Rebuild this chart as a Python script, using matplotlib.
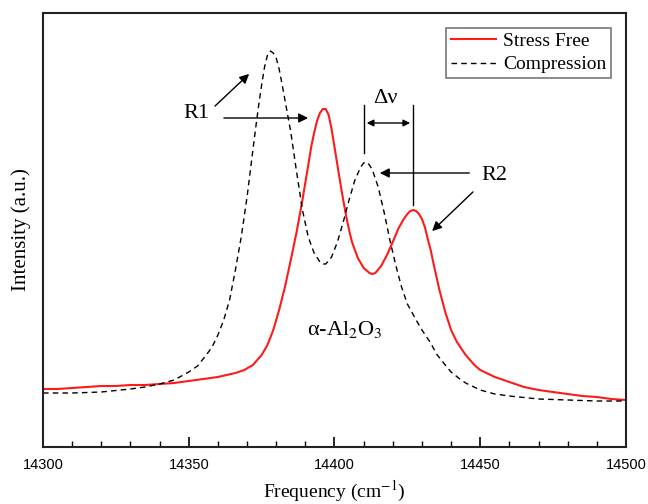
import numpy as np
import matplotlib
matplotlib.use("Agg")
import matplotlib.pyplot as plt

# Stress free spectrum
freq_free = [14300, 14305, 14310, 14315, 14320, 14325, 14330, 14335, 14340, 14345,
             14350, 14355, 14360, 14363, 14366, 14369, 14372, 14375, 14377, 14379,
             14381, 14383, 14385, 14387, 14389, 14391, 14392, 14393, 14394, 14395,
             14396, 14397, 14398, 14399, 14400, 14401, 14402, 14403, 14404, 14405,
             14406, 14408, 14410, 14412, 14413, 14414, 14416, 14418, 14420, 14422,
             14424, 14425, 14426, 14427, 14428, 14429, 14430, 14431, 14432, 14433,
             14434, 14436, 14438, 14440, 14442, 14445, 14448, 14450, 14455, 14460,
             14465, 14470, 14475, 14480, 14485, 14490, 14495, 14500]
int_free = [58, 58, 59, 60, 61, 61, 62, 62, 63, 64,
            66, 68, 70, 72, 74, 77, 82, 92, 102, 117,
            137, 160, 187, 215, 247, 282, 300, 314, 326, 334,
            338, 338, 332, 318, 300, 282, 264, 247, 231, 217,
            205, 189, 179, 174, 173, 174, 181, 192, 205, 219,
            229, 233, 236, 237, 236, 233, 228, 220, 208, 197,
            183, 157, 135, 117, 105, 92, 82, 77, 70, 65,
            60, 57, 55, 53, 51, 50, 48, 47]

# Compression spectrum
freq_comp = [14300, 14310, 14320, 14330, 14335, 14340, 14345, 14350, 14353, 14356,
             14358, 14360, 14362, 14364, 14366, 14368, 14370, 14372, 14373, 14374,
             14375, 14376, 14377, 14378, 14379, 14380, 14381, 14382, 14383, 14385,
             14387, 14389, 14391, 14393, 14395, 14396, 14397, 14399, 14401, 14403,
             14405, 14407, 14409, 14410, 14411, 14412, 14413, 14415, 14417, 14419,
             14421, 14423, 14425, 14428, 14430, 14433, 14435, 14438, 14440, 14443,
             14445, 14450, 14455, 14460, 14470, 14480, 14490, 14500]
int_comp = [54, 54, 55, 58, 60, 63, 67, 75, 81, 92,
            100, 112, 127, 147, 177, 210, 250, 297, 320, 342,
            362, 380, 392, 396, 394, 389, 378, 363, 347, 315,
            275, 237, 210, 194, 185, 183, 183, 190, 205, 225,
            247, 267, 280, 284, 285, 282, 277, 260, 235, 207,
            182, 160, 143, 127, 117, 104, 93, 82, 75, 68,
            64, 57, 53, 51, 48, 47, 46, 46]

plt.rcParams['font.family'] = ['Liberation Serif', 'DejaVu Serif']
plt.rcParams['mathtext.fontset'] = 'stix'

fig = plt.figure(figsize=(6.48, 5.04), dpi=100)
ax = fig.add_axes([0.0664, 0.1131, 0.8996, 0.8611])

ax.plot(freq_free, int_free, color='#ff1a1a', lw=1.5, label='Stress Free')
ax.plot(freq_comp, int_comp, color='black', lw=1.0, ls=(0, (4, 3)), label='Compression')

ax.set_xlim(14300, 14500)
ax.set_ylim(0, 434)
ax.set_xticks([14300, 14350, 14400, 14450, 14500])
ax.set_xticks(np.arange(14300, 14501, 10), minor=True)
ax.set_yticks([])
ax.tick_params(axis='x', which='major', direction='in', length=7, width=1.2, pad=8)
ax.tick_params(axis='x', which='minor', direction='in', length=4, width=1.0)
for lab in ax.get_xticklabels():
    lab.set_family(['Liberation Sans', 'DejaVu Sans'])
    lab.set_fontsize(10.5)
for sp in ax.spines.values():
    sp.set_linewidth(1.5)
    sp.set_color('#222222')

ax.set_xlabel('Frequency (cm$^{-1}$)', fontsize=14, labelpad=5)
ax.set_ylabel('Intensity (a.u.)', fontsize=15, labelpad=9)

leg = ax.legend(loc='upper right', bbox_to_anchor=(0.985, 0.98), fontsize=14,
                frameon=True, fancybox=False, handlelength=2.3, handletextpad=0.4,
                borderpad=0.25, labelspacing=0.3, borderaxespad=0.3)
leg.get_frame().set_edgecolor('#555555')
leg.get_frame().set_linewidth(1.2)

arrow = dict(arrowstyle='-|>', color='black', lw=1.0, mutation_scale=14)
ax.text(14352.5, 334, 'R1', fontsize=16, ha='center', va='center')
ax.annotate('', xy=(14371.4, 375), xytext=(14358.3, 339), arrowprops=arrow)
ax.annotate('', xy=(14391.9, 329), xytext=(14361.1, 329), arrowprops=arrow)

ax.plot([14410.1, 14410.1], [294, 342], color='black', lw=1.0)
ax.plot([14426.9, 14426.9], [242, 342], color='black', lw=1.0)
ax.annotate('', xy=(14410.1, 324), xytext=(14426.9, 324),
            arrowprops=dict(arrowstyle='<|-|>', color='black', lw=1.0, mutation_scale=10))
ax.text(14417.3, 349, 'Δν', fontsize=16, ha='center', va='center')

ax.text(14455, 272, 'R2', fontsize=16, ha='center', va='center')
ax.annotate('', xy=(14414.6, 274), xytext=(14447.2, 274), arrowprops=arrow)
ax.annotate('', xy=(14432.8, 214), xytext=(14448.2, 257), arrowprops=arrow)

ax.text(14403.6, 117, 'α-Al$_2$O$_3$', fontsize=16, ha='center', va='center')

fig.savefig('out.png', dpi=100)
